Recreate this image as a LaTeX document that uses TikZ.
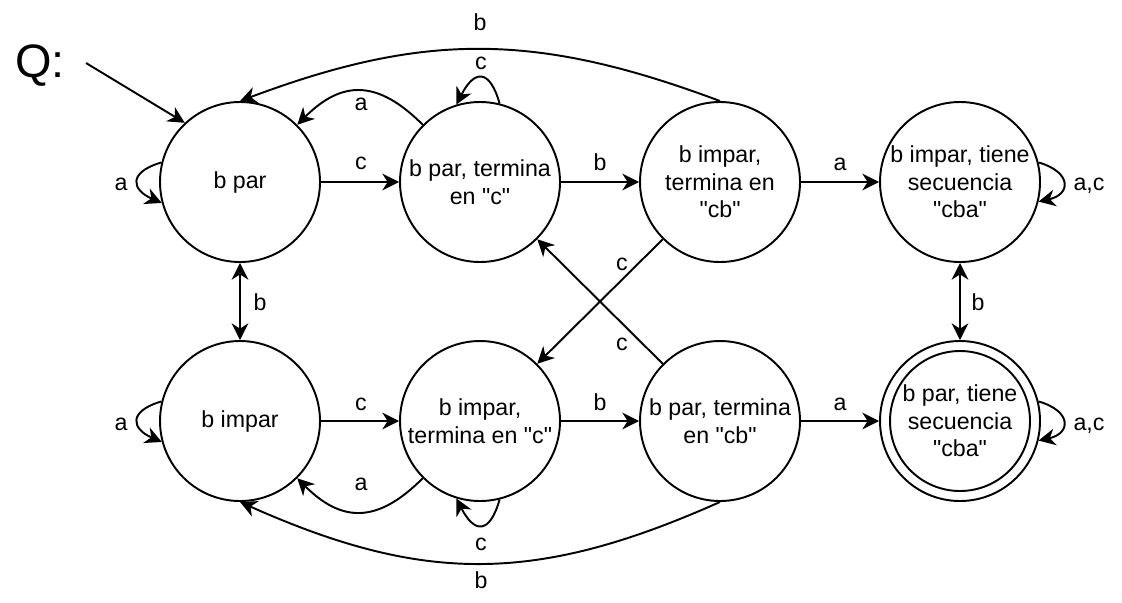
\documentclass[tikz,border=0pt]{standalone}
\usepackage{fontspec}
\setmainfont{Liberation Sans}[Ligatures=TeXOff]
\usetikzlibrary{arrows.meta}

\tikzset{
  estado/.style={draw, circle, line width=1.1pt, minimum size=3.2cm, inner sep=-2pt, align=center},
  arista/.style={line width=1.1pt, ->},
  etiq/.style={inner sep=0pt, anchor=base},
}

\begin{document}
\begin{tikzpicture}[x=0.2cm, y=0.2cm, font=\fontsize{13.2pt}{15.6pt}\selectfont, >={Stealth[length=9.5pt,width=9.5pt,inset=3pt]}]
\useasboundingbox (0,0) rectangle (112.2,-60.2);
\node[estado] (bpar) at (24,-18.2) {b par};
\node[estado] (bparc) at (48,-18.2) {b par, termina\\en "c"};
\node[estado] (bimparcb) at (72,-18.2) {b impar,\\termina en\\"cb"};
\node[estado] (bimparcba) at (96,-18.2) {b impar, tiene\\secuencia\\"cba"};
\node[estado] (bimpar) at (24,-42.1) {b impar};
\node[estado] (bimparc) at (48,-42.1) {b impar,\\termina en "c"};
\node[estado] (bparcb) at (72,-42.1) {b par, termina\\en "cb"};
\node[estado] (bparcba) at (96,-42.1) {b par, tiene\\secuencia\\"cba"};
\draw[line width=1.1pt] (bparcba) circle [radius=1.4cm];
\node[inner sep=0pt, anchor=base west, font=\fontsize{26.7pt}{30pt}\selectfont] (q) at (1.5,-7.7) {Q:};
\coordinate (qstart) at (8.6,-6.3);
\draw[arista] (qstart) -- (bpar.133);
% fila de arriba
\draw[arista] (bpar) -- (bparc) node[etiq] at (36.1,-16.9) {c};
\draw[arista] (bparc) -- (bimparcb) node[etiq] at (60,-17.0) {b};
\draw[arista] (bimparcb) -- (bimparcba) node[etiq] at (84,-17.0) {a};
\draw[arista] (bpar.166) .. controls +(-3.4,-1) and +(-3.0,1.3) .. (bpar.195) node[etiq] at (12.1,-19.0) {a};
\draw[arista] (bimparcba.14) .. controls +(3.4,-1) and +(3.2,0.7) .. (bimparcba.-14) node[etiq] at (108.9,-19.0) {a,c};
\draw[arista] (bparc.76) .. controls +(-1.0,3.5) and +(1.8,3.5) .. (bparc.107) node[etiq] at (48.1,-6.9) {c};
\draw[arista] (bparc.135) .. controls +(-4.5,4.5) and +(4.5,4.5) .. (bpar.45) node[etiq] at (36.1,-11.0) {a};
\draw[arista] (bimparcb.north) .. controls +(-18.4,6.9) and +(18.4,6.9) .. (bpar.north) node[etiq] at (48.0,-3.0) {b};
% fila de abajo
\draw[arista] (bimpar) -- (bimparc) node[etiq] at (36.1,-41.0) {c};
\draw[arista] (bimparc) -- (bparcb) node[etiq] at (60,-41.0) {b};
\draw[arista] (bparcb) -- (bparcba) node[etiq] at (84,-41.0) {a};
\draw[arista] (bimpar.166) .. controls +(-3.4,-1) and +(-3.0,1.3) .. (bimpar.195) node[etiq] at (12.1,-43.0) {a};
\draw[arista] (bparcba.14) .. controls +(3.4,-1) and +(3.2,0.7) .. (bparcba.-14) node[etiq] at (108.9,-43.0) {a,c};
\draw[arista] (bimparc.-76) .. controls +(-1.0,-3.5) and +(1.8,-3.5) .. (bimparc.-107) node[etiq] at (48.1,-55.0) {c};
\draw[arista] (bimparc.225) .. controls +(-4.5,-4.5) and +(4.5,-4.5) .. (bimpar.-45) node[etiq] at (36.1,-49.0) {a};
\draw[arista] (bparcb.south) .. controls +(-18.4,-8.2) and +(18.4,-8.2) .. (bimpar.south) node[etiq] at (48.1,-58.8) {b};
% entre filas
\draw[arista, <->] (bpar) -- (bimpar) node[etiq] at (26.0,-31.0) {b};
\draw[arista, <->] (bimparcba) -- (bparcba) node[etiq] at (97.8,-31.0) {b};
\draw[arista] (bimparcb.225) -- (bimparc.45) node[etiq] at (62.2,-27.0) {c};
\draw[arista] (bparcb.135) -- (bparc.-45) node[etiq] at (62.2,-35.0) {c};
\end{tikzpicture}
\end{document}
